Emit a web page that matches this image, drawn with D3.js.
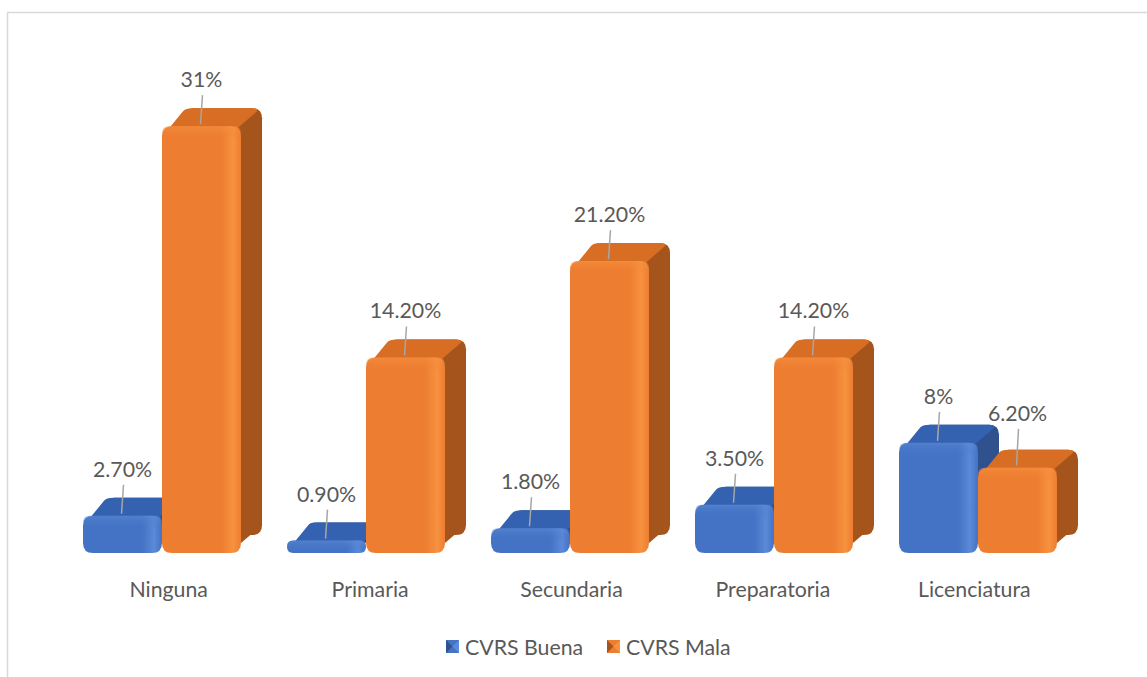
<!DOCTYPE html>
<html><head><meta charset="utf-8">
<script src="https://cdn.jsdelivr.net/npm/d3@7"></script>
<style>html,body{margin:0;padding:0;background:#fff;}svg{display:block;font-family:Lato,"Open Sans",sans-serif;}</style>
</head><body>
<svg id="chart" width="1147" height="677"></svg>
<script>
const categories = ["Ninguna","Primaria","Secundaria","Preparatoria","Licenciatura"];
const seriesNames = ["CVRS Buena","CVRS Mala"];
const buena = [2.7, 0.9, 1.8, 3.5, 8];
const mala = [31, 14.2, 21.2, 14.2, 6.2];
const buenaLabels = ["2.70%","0.90%","1.80%","3.50%","8%"];
const malaLabels = ["31%","14.20%","21.20%","14.20%","6.20%"];

const svg = d3.select("#chart");
const W = 1147, H = 677;
const baseY = 553, DX = 21, DY = -18, R = 10;
const FS = 21.3, TXT = "#595959";

svg.append("rect").attr("x",7.5).attr("y",12.5).attr("width",W).attr("height",H)
  .attr("fill","none").attr("stroke","#d9d9d9").attr("stroke-width",1.5);

const x0 = d3.scaleBand().domain(categories).range([60,1080]).paddingInner(0.2255).paddingOuter(0.11275);
const x1 = d3.scaleBand().domain(seriesNames).range([0, x0.bandwidth()]);
const xl = d3.scaleBand().domain(categories).range([68,1075]);
const y = d3.scaleLinear().domain([0,35]).range([baseY, baseY-35*13.77]);

const pal = {
  "CVRS Buena": {front:"#4472c4", light:"#5b8ad8", top:"#3461b0", side:"#2f528f"},
  "CVRS Mala": {front:"#ed7d31", light:"#f7923f", top:"#d86e24", side:"#a5541c"}
};
const defs = svg.append("defs");
seriesNames.forEach((s,i)=>{
  const g = defs.append("linearGradient").attr("id","gf"+i).attr("x1",0).attr("x2",1).attr("y1",0).attr("y2",0);
  g.append("stop").attr("offset","0%").attr("stop-color",pal[s].front);
  g.append("stop").attr("offset","75%").attr("stop-color",pal[s].front);
  g.append("stop").attr("offset","90%").attr("stop-color",pal[s].light);
  g.append("stop").attr("offset","100%").attr("stop-color",pal[s].front);
  const gt = defs.append("linearGradient").attr("id","gt"+i).attr("x1",0).attr("x2",0).attr("y1",0).attr("y2",1);
  gt.append("stop").attr("offset","0%").attr("stop-color",pal[s].light).attr("stop-opacity",0.6);
  gt.append("stop").attr("offset","100%").attr("stop-color",pal[s].front).attr("stop-opacity",0);
});

function rr(x,y0,w,h,r){
  r = Math.min(r, w/2, h/2);
  return `M${x+r},${y0}H${x+w-r}Q${x+w},${y0} ${x+w},${y0+r}V${y0+h-r}Q${x+w},${y0+h} ${x+w-r},${y0+h}H${x+r}Q${x},${y0+h} ${x},${y0+h-r}V${y0+r}Q${x},${y0} ${x+r},${y0}Z`;
}

const data = [];
categories.forEach((c,ci)=>{
  data.push({c, ci, s:seriesNames[0], si:0, v:buena[ci], label:buenaLabels[ci]});
  data.push({c, ci, s:seriesNames[1], si:1, v:mala[ci], label:malaLabels[ci]});
});

const bars = svg.append("g");
const labels = svg.append("g");
data.forEach(d=>{
  const x = x0(d.c) + x1(d.s);
  const w = x1.bandwidth();
  const yt = y(d.v);
  const h = baseY - yt;
  const p = pal[d.s];
  const g = bars.append("g");
  g.append("path").attr("d", rr(x+DX, yt+DY, w, h, R)).attr("fill", p.side);
  g.append("path").attr("d", `M${x+w-R},${yt}L${x+w-R+DX},${yt+DY}L${x+w+DX},${yt+DY+R}L${x+w+DX},${baseY+DY-R}L${x+w},${baseY-R}Z`).attr("fill", p.side);
  g.append("path").attr("d", `M${x+R*0.3},${yt+R*0.7}L${x+DX},${yt+DY+R*0.3}Q${x+DX+2},${yt+DY} ${x+DX+R},${yt+DY}L${x+w+DX-R},${yt+DY}Q${x+w+DX-2},${yt+DY} ${x+w+DX-R*0.6},${yt+DY+R*0.4}L${x+w-R*0.6},${yt+R*0.4}Z`).attr("fill", p.top);
  g.append("path").attr("d", rr(x, yt, w, h, R)).attr("fill", `url(#gf${d.si})`);
  g.append("path").attr("d", rr(x, yt, w, Math.min(h, 14), R)).attr("fill", `url(#gt${d.si})`);
  const cx = x + w/2;
  let ly = yt - 47;
  if (d.si === 1) {
    // keep label clear of the neighbouring blue bar's back edge
    const blueTop = y(buena[d.ci]) + DY;
    ly = Math.min(ly, blueTop - 12);
  }
  labels.append("line").attr("x1", cx+1).attr("y1", ly+16).attr("x2", cx-1).attr("y2", yt-2)
    .attr("stroke","#a6a6a6").attr("stroke-width",1.5);
  labels.append("text").attr("x", cx).attr("y", ly).attr("text-anchor","middle").attr("dominant-baseline","central")
    .attr("font-size",FS).attr("fill",TXT).text(d.label);
});

svg.append("g").selectAll("text").data(categories).join("text")
  .attr("x", c=>xl(c)+xl.bandwidth()/2).attr("y", 589).attr("text-anchor","middle").attr("dominant-baseline","central")
  .attr("font-size",FS).attr("fill",TXT).text(c=>c);

const lg = svg.append("g");
const legX = [446, 607];
seriesNames.forEach((s,i)=>{
  const p = pal[s];
  const gx = legX[i], gy = 640;
  lg.append("rect").attr("x",gx).attr("y",gy).attr("width",13).attr("height",13).attr("fill",p.front);
  lg.append("path").attr("d",`M${gx},${gy}L${gx+6.5},${gy+6.5}L${gx},${gy+13}Z`).attr("fill",p.side);
  lg.append("path").attr("d",`M${gx+13},${gy}L${gx+6.5},${gy+6.5}L${gx+13},${gy+13}Z`).attr("fill",p.light);
  lg.append("text").attr("x",gx+19).attr("y",gy+7).attr("dominant-baseline","central")
    .attr("font-size",FS).attr("fill",TXT).text(s);
});
</script>
</body></html>
